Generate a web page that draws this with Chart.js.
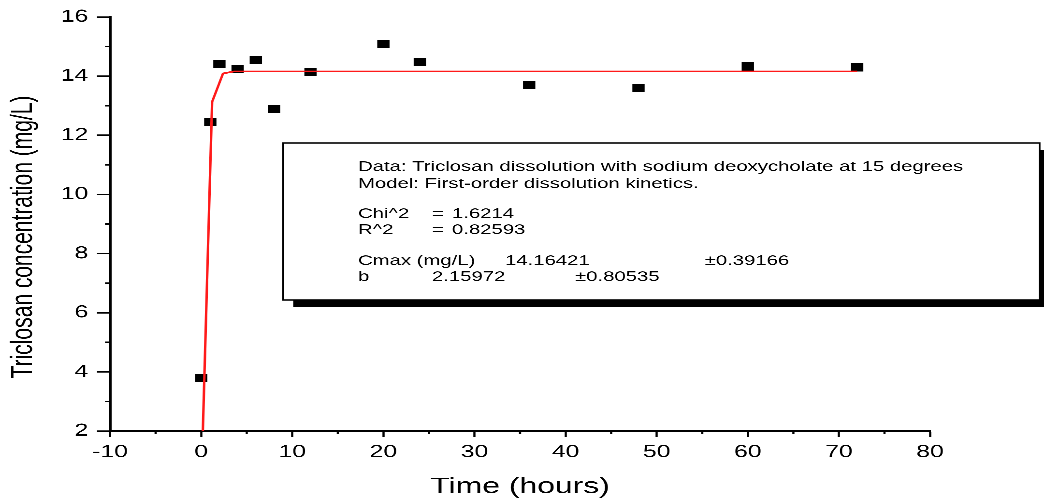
<!DOCTYPE html>
<html><head><meta charset="utf-8">
<script src="https://cdn.jsdelivr.net/npm/chart.js@4/dist/chart.umd.min.js"></script>
<style>
html,body{margin:0;padding:0;background:#fff;overflow:hidden;width:1044px;height:499px;}
#wrap{position:absolute;left:0;top:0;width:720px;height:499px;transform:scaleX(1.45);transform-origin:0 0;}
</style></head><body>
<div id="wrap"><canvas id="c"></canvas></div>
<script>
// ---- data ----
const timeHours     = [0, 1, 2, 4, 6, 8, 12, 20, 24, 36, 48, 60, 72];
const concentration = [3.79, 12.45, 14.41, 14.24, 14.55, 12.89, 14.14, 15.09, 14.48, 13.70, 13.60, 14.33, 14.30];
const fitTime = [0, 1.2, 2.4, 3.6, 72];
const fitConc = [0, 13.13, 14.09, 14.16, 14.16];
const xMinorTicks = [-5, 5, 15, 25, 35, 45, 55, 65, 75];
const yMinorTicks = [3, 5, 7, 9, 11, 13, 15];
const xTitle = 'Time (hours)';
const yTitle = 'Triclosan concentration (mg/L)';
const boxHeader = ['Data: Triclosan dissolution with sodium deoxycholate at 15 degrees', 'Model: First-order dissolution kinetics.'];
const fitStats  = [['Chi^2', '=', '1.6214'], ['R^2', '=', '0.82593']];
const fitParams = [['Cmax (mg/L)', '14.16421', '±0.39166'], ['b', '2.15972', '±0.80535']];

const FONT = '"Liberation Sans", Arial, Helvetica, sans-serif';

const decor = {
  id: 'decor',
  afterDraw(chart) {
    const ctx = chart.ctx, xs = chart.scales.x, ys = chart.scales.y, a = chart.chartArea;
    ctx.save();
    // minor ticks
    ctx.strokeStyle = '#000'; ctx.lineWidth = 1.5;
    ctx.beginPath();
    xMinorTicks.forEach(v => { const p = xs.getPixelForValue(v); ctx.moveTo(p, a.bottom); ctx.lineTo(p, a.bottom + 3); });
    yMinorTicks.forEach(v => { const p = ys.getPixelForValue(v); ctx.moveTo(a.left, p); ctx.lineTo(a.left - 3.5, p); });
    ctx.stroke();
    // axis titles
    ctx.fillStyle = '#000';
    ctx.textBaseline = 'alphabetic';
    ctx.textAlign = 'center';
    ctx.font = '22px ' + FONT;
    ctx.fillText(xTitle, (a.left + a.right) / 2, 493);
    ctx.save();
    ctx.translate(22, 237); ctx.rotate(-Math.PI / 2);
    ctx.font = '21px ' + FONT;
    ctx.fillText(yTitle, 0, 0);
    ctx.restore();
    // fit report box
    const L = 195.2, T = 143, R = 717, B = 300, sh = 7;
    ctx.fillStyle = '#000';
    ctx.fillRect(L + sh, B, R - L, sh);
    ctx.fillRect(R, T + sh, sh, B - T);
    ctx.fillStyle = '#fff';
    ctx.fillRect(L, T, R - L, B - T);
    ctx.strokeStyle = '#000'; ctx.lineWidth = 1.2;
    ctx.strokeRect(L, T, R - L, B - T);
    ctx.fillStyle = '#000';
    ctx.textAlign = 'left';
    ctx.font = '14px ' + FONT;
    const x0 = 246.9;
    ctx.fillText(boxHeader[0], x0, 171);
    ctx.fillText(boxHeader[1], x0, 188);
    const statY = [218, 234];
    fitStats.forEach((r, i) => {
      ctx.fillText(r[0], x0, statY[i]);
      ctx.fillText(r[1], 297.9, statY[i]);
      ctx.fillText(r[2], 311.7, statY[i]);
    });
    const parY = [265, 281];
    const parX = [[x0, 348.3, 486], [x0, 297.9, 396.6]];
    fitParams.forEach((r, i) => {
      r.forEach((t, j) => ctx.fillText(t, parX[i][j], parY[i]));
    });
    ctx.restore();
  }
};

new Chart(document.getElementById('c'), {
  type: 'scatter',
  data: {
    datasets: [
      {
        type: 'line',
        label: 'fit',
        data: fitTime.map((t, i) => ({ x: t, y: fitConc[i] })),
        borderColor: '#ff1a1a',
        borderWidth: 1.7,
        pointRadius: 0,
        fill: false,
        tension: 0,
        order: 0
      },
      {
        label: 'data',
        data: timeHours.map((t, i) => ({ x: t, y: concentration[i] })),
        pointStyle: 'rect',
        pointRadius: 6,
        pointBorderWidth: 0,
        backgroundColor: '#000',
        borderColor: '#000',
        order: 1
      }
    ]
  },
  options: {
    responsive: true,
    maintainAspectRatio: false,
    animation: false,
    devicePixelRatio: 3,
    layout: { padding: { left: 0, right: 78.6, top: 17, bottom: 0 } },
    plugins: { legend: { display: false }, tooltip: { enabled: false } },
    scales: {
      x: {
        type: 'linear', min: -10, max: 80,
        border: { display: true, color: '#000', width: 2 },
        grid: { drawOnChartArea: false, drawTicks: true, tickLength: 6, tickColor: '#000', tickWidth: 1.5 },
        ticks: { stepSize: 10, color: '#000', padding: 5, font: { family: FONT, size: 17 }, maxRotation: 0 },
        afterFit(s) { s.height = 68; }
      },
      y: {
        type: 'linear', min: 2, max: 16,
        border: { display: true, color: '#000', width: 2 },
        grid: { drawOnChartArea: false, drawTicks: true, tickLength: 9, tickColor: '#000', tickWidth: 1.5 },
        ticks: { stepSize: 2, color: '#000', padding: 6, font: { family: FONT, size: 17 } },
        afterFit(s) { s.width = 75.9; }
      }
    }
  },
  plugins: [decor]
});
</script>
</body></html>
